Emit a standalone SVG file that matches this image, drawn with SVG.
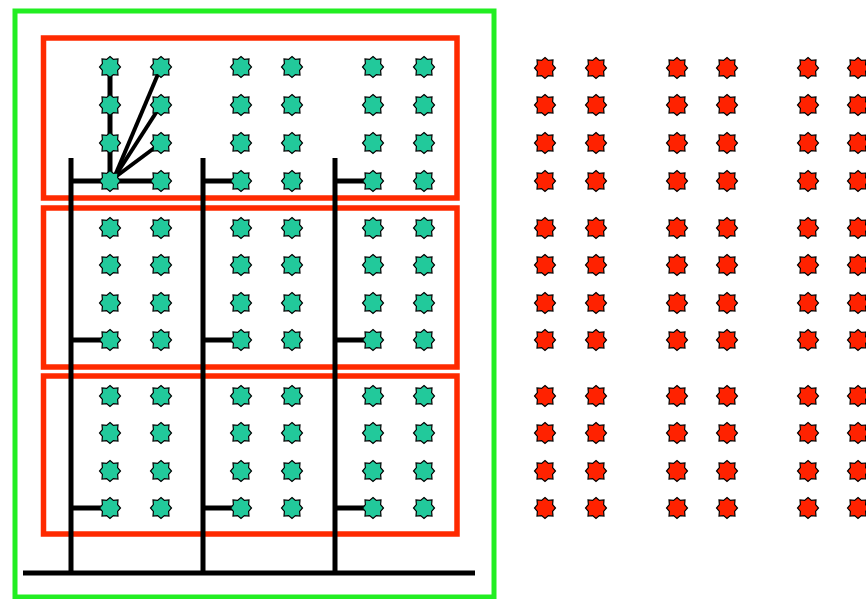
<svg xmlns="http://www.w3.org/2000/svg" xmlns:xlink="http://www.w3.org/1999/xlink" width="866" height="599" viewBox="0 0 866 599">
<style>
.frame{fill:none;stroke:#22ee22;stroke-width:5}
.box{fill:none;stroke:#ff2a00;stroke-width:5.5}
.wire{stroke:#000;stroke-width:5;fill:none}
.fan{stroke:#000;stroke-width:4;fill:none}
.g{fill:#22c99b}
.r{fill:#ff2200}
</style>
<defs>
<polygon id="star" stroke="#000" stroke-width="1.2" points="0,-10.5 3.4,-7.6 8,-8 7.6,-3.4 10.5,0 7.6,3.4 8,8 3.4,7.6 0,10.5 -3.4,7.6 -8,8 -7.6,3.4 -10.5,0 -7.6,-3.4 -8,-8 -3.4,-7.6"/>
</defs>
<rect width="866" height="599" fill="#fff"/>
<rect class="frame" x="15" y="11" width="479" height="586"/>
<g id="boxes">
<rect class="box" x="43.5" y="38" width="413.5" height="160"/>
<rect class="box" x="43.5" y="208" width="413.5" height="159"/>
<rect class="box" x="43.5" y="376" width="413.5" height="158"/>
</g>
<g id="connectors">
<line class="wire" x1="71" y1="158" x2="71" y2="573"/>
<line class="wire" x1="203" y1="158" x2="203" y2="573"/>
<line class="wire" x1="335" y1="158" x2="335" y2="573"/>
<line class="wire" x1="23" y1="573" x2="475" y2="573"/>
<line class="wire" x1="71" y1="181" x2="161" y2="181"/>
<line class="wire" x1="203" y1="181" x2="241" y2="181"/>
<line class="wire" x1="335" y1="181" x2="373" y2="181"/>
<line class="wire" x1="71" y1="340" x2="111" y2="340"/>
<line class="wire" x1="203" y1="340" x2="241" y2="340"/>
<line class="wire" x1="335" y1="340" x2="373" y2="340"/>
<line class="wire" x1="71" y1="508" x2="111" y2="508"/>
<line class="wire" x1="203" y1="508" x2="241" y2="508"/>
<line class="wire" x1="335" y1="508" x2="373" y2="508"/>
<line class="wire" x1="110" y1="67" x2="110" y2="181"/>
<line class="fan" x1="114" y1="178" x2="161" y2="67"/>
<line class="fan" x1="114" y1="178" x2="161" y2="105"/>
<line class="fan" x1="114" y1="178" x2="161" y2="143"/>
</g>
<g id="green-stars">
<g id="g1-1"><use href="#star" class="g" x="110" y="67"/></g>
<g id="g1-2"><use href="#star" class="g" x="161" y="67"/></g>
<g id="g1-3"><use href="#star" class="g" x="241" y="67"/></g>
<g id="g1-4"><use href="#star" class="g" x="292" y="67"/></g>
<g id="g1-5"><use href="#star" class="g" x="373" y="67"/></g>
<g id="g1-6"><use href="#star" class="g" x="424" y="67"/></g>
<g id="g2-1"><use href="#star" class="g" x="110" y="105"/></g>
<g id="g2-2"><use href="#star" class="g" x="161" y="105"/></g>
<g id="g2-3"><use href="#star" class="g" x="241" y="105"/></g>
<g id="g2-4"><use href="#star" class="g" x="292" y="105"/></g>
<g id="g2-5"><use href="#star" class="g" x="373" y="105"/></g>
<g id="g2-6"><use href="#star" class="g" x="424" y="105"/></g>
<g id="g3-1"><use href="#star" class="g" x="110" y="143"/></g>
<g id="g3-2"><use href="#star" class="g" x="161" y="143"/></g>
<g id="g3-3"><use href="#star" class="g" x="241" y="143"/></g>
<g id="g3-4"><use href="#star" class="g" x="292" y="143"/></g>
<g id="g3-5"><use href="#star" class="g" x="373" y="143"/></g>
<g id="g3-6"><use href="#star" class="g" x="424" y="143"/></g>
<g id="g4-1"><use href="#star" class="g" x="110" y="181"/></g>
<g id="g4-2"><use href="#star" class="g" x="161" y="181"/></g>
<g id="g4-3"><use href="#star" class="g" x="241" y="181"/></g>
<g id="g4-4"><use href="#star" class="g" x="292" y="181"/></g>
<g id="g4-5"><use href="#star" class="g" x="373" y="181"/></g>
<g id="g4-6"><use href="#star" class="g" x="424" y="181"/></g>
<g id="g5-1"><use href="#star" class="g" x="110" y="228"/></g>
<g id="g5-2"><use href="#star" class="g" x="161" y="228"/></g>
<g id="g5-3"><use href="#star" class="g" x="241" y="228"/></g>
<g id="g5-4"><use href="#star" class="g" x="292" y="228"/></g>
<g id="g5-5"><use href="#star" class="g" x="373" y="228"/></g>
<g id="g5-6"><use href="#star" class="g" x="424" y="228"/></g>
<g id="g6-1"><use href="#star" class="g" x="110" y="265"/></g>
<g id="g6-2"><use href="#star" class="g" x="161" y="265"/></g>
<g id="g6-3"><use href="#star" class="g" x="241" y="265"/></g>
<g id="g6-4"><use href="#star" class="g" x="292" y="265"/></g>
<g id="g6-5"><use href="#star" class="g" x="373" y="265"/></g>
<g id="g6-6"><use href="#star" class="g" x="424" y="265"/></g>
<g id="g7-1"><use href="#star" class="g" x="110" y="303"/></g>
<g id="g7-2"><use href="#star" class="g" x="161" y="303"/></g>
<g id="g7-3"><use href="#star" class="g" x="241" y="303"/></g>
<g id="g7-4"><use href="#star" class="g" x="292" y="303"/></g>
<g id="g7-5"><use href="#star" class="g" x="373" y="303"/></g>
<g id="g7-6"><use href="#star" class="g" x="424" y="303"/></g>
<g id="g8-1"><use href="#star" class="g" x="110" y="340"/></g>
<g id="g8-2"><use href="#star" class="g" x="161" y="340"/></g>
<g id="g8-3"><use href="#star" class="g" x="241" y="340"/></g>
<g id="g8-4"><use href="#star" class="g" x="292" y="340"/></g>
<g id="g8-5"><use href="#star" class="g" x="373" y="340"/></g>
<g id="g8-6"><use href="#star" class="g" x="424" y="340"/></g>
<g id="g9-1"><use href="#star" class="g" x="110" y="396"/></g>
<g id="g9-2"><use href="#star" class="g" x="161" y="396"/></g>
<g id="g9-3"><use href="#star" class="g" x="241" y="396"/></g>
<g id="g9-4"><use href="#star" class="g" x="292" y="396"/></g>
<g id="g9-5"><use href="#star" class="g" x="373" y="396"/></g>
<g id="g9-6"><use href="#star" class="g" x="424" y="396"/></g>
<g id="g10-1"><use href="#star" class="g" x="110" y="433"/></g>
<g id="g10-2"><use href="#star" class="g" x="161" y="433"/></g>
<g id="g10-3"><use href="#star" class="g" x="241" y="433"/></g>
<g id="g10-4"><use href="#star" class="g" x="292" y="433"/></g>
<g id="g10-5"><use href="#star" class="g" x="373" y="433"/></g>
<g id="g10-6"><use href="#star" class="g" x="424" y="433"/></g>
<g id="g11-1"><use href="#star" class="g" x="110" y="471"/></g>
<g id="g11-2"><use href="#star" class="g" x="161" y="471"/></g>
<g id="g11-3"><use href="#star" class="g" x="241" y="471"/></g>
<g id="g11-4"><use href="#star" class="g" x="292" y="471"/></g>
<g id="g11-5"><use href="#star" class="g" x="373" y="471"/></g>
<g id="g11-6"><use href="#star" class="g" x="424" y="471"/></g>
<g id="g12-1"><use href="#star" class="g" x="110" y="508"/></g>
<g id="g12-2"><use href="#star" class="g" x="161" y="508"/></g>
<g id="g12-3"><use href="#star" class="g" x="241" y="508"/></g>
<g id="g12-4"><use href="#star" class="g" x="292" y="508"/></g>
<g id="g12-5"><use href="#star" class="g" x="373" y="508"/></g>
<g id="g12-6"><use href="#star" class="g" x="424" y="508"/></g>
</g>
<g id="red-stars">
<g id="r1-1"><use href="#star" class="r" x="545" y="68"/></g>
<g id="r1-2"><use href="#star" class="r" x="596" y="68"/></g>
<g id="r1-3"><use href="#star" class="r" x="677" y="68"/></g>
<g id="r1-4"><use href="#star" class="r" x="727" y="68"/></g>
<g id="r1-5"><use href="#star" class="r" x="808" y="68"/></g>
<g id="r1-6"><use href="#star" class="r" x="858" y="68"/></g>
<g id="r2-1"><use href="#star" class="r" x="545" y="105"/></g>
<g id="r2-2"><use href="#star" class="r" x="596" y="105"/></g>
<g id="r2-3"><use href="#star" class="r" x="677" y="105"/></g>
<g id="r2-4"><use href="#star" class="r" x="727" y="105"/></g>
<g id="r2-5"><use href="#star" class="r" x="808" y="105"/></g>
<g id="r2-6"><use href="#star" class="r" x="858" y="105"/></g>
<g id="r3-1"><use href="#star" class="r" x="545" y="143"/></g>
<g id="r3-2"><use href="#star" class="r" x="596" y="143"/></g>
<g id="r3-3"><use href="#star" class="r" x="677" y="143"/></g>
<g id="r3-4"><use href="#star" class="r" x="727" y="143"/></g>
<g id="r3-5"><use href="#star" class="r" x="808" y="143"/></g>
<g id="r3-6"><use href="#star" class="r" x="858" y="143"/></g>
<g id="r4-1"><use href="#star" class="r" x="545" y="181"/></g>
<g id="r4-2"><use href="#star" class="r" x="596" y="181"/></g>
<g id="r4-3"><use href="#star" class="r" x="677" y="181"/></g>
<g id="r4-4"><use href="#star" class="r" x="727" y="181"/></g>
<g id="r4-5"><use href="#star" class="r" x="808" y="181"/></g>
<g id="r4-6"><use href="#star" class="r" x="858" y="181"/></g>
<g id="r5-1"><use href="#star" class="r" x="545" y="228"/></g>
<g id="r5-2"><use href="#star" class="r" x="596" y="228"/></g>
<g id="r5-3"><use href="#star" class="r" x="677" y="228"/></g>
<g id="r5-4"><use href="#star" class="r" x="727" y="228"/></g>
<g id="r5-5"><use href="#star" class="r" x="808" y="228"/></g>
<g id="r5-6"><use href="#star" class="r" x="858" y="228"/></g>
<g id="r6-1"><use href="#star" class="r" x="545" y="265"/></g>
<g id="r6-2"><use href="#star" class="r" x="596" y="265"/></g>
<g id="r6-3"><use href="#star" class="r" x="677" y="265"/></g>
<g id="r6-4"><use href="#star" class="r" x="727" y="265"/></g>
<g id="r6-5"><use href="#star" class="r" x="808" y="265"/></g>
<g id="r6-6"><use href="#star" class="r" x="858" y="265"/></g>
<g id="r7-1"><use href="#star" class="r" x="545" y="303"/></g>
<g id="r7-2"><use href="#star" class="r" x="596" y="303"/></g>
<g id="r7-3"><use href="#star" class="r" x="677" y="303"/></g>
<g id="r7-4"><use href="#star" class="r" x="727" y="303"/></g>
<g id="r7-5"><use href="#star" class="r" x="808" y="303"/></g>
<g id="r7-6"><use href="#star" class="r" x="858" y="303"/></g>
<g id="r8-1"><use href="#star" class="r" x="545" y="340"/></g>
<g id="r8-2"><use href="#star" class="r" x="596" y="340"/></g>
<g id="r8-3"><use href="#star" class="r" x="677" y="340"/></g>
<g id="r8-4"><use href="#star" class="r" x="727" y="340"/></g>
<g id="r8-5"><use href="#star" class="r" x="808" y="340"/></g>
<g id="r8-6"><use href="#star" class="r" x="858" y="340"/></g>
<g id="r9-1"><use href="#star" class="r" x="545" y="396"/></g>
<g id="r9-2"><use href="#star" class="r" x="596" y="396"/></g>
<g id="r9-3"><use href="#star" class="r" x="677" y="396"/></g>
<g id="r9-4"><use href="#star" class="r" x="727" y="396"/></g>
<g id="r9-5"><use href="#star" class="r" x="808" y="396"/></g>
<g id="r9-6"><use href="#star" class="r" x="858" y="396"/></g>
<g id="r10-1"><use href="#star" class="r" x="545" y="433"/></g>
<g id="r10-2"><use href="#star" class="r" x="596" y="433"/></g>
<g id="r10-3"><use href="#star" class="r" x="677" y="433"/></g>
<g id="r10-4"><use href="#star" class="r" x="727" y="433"/></g>
<g id="r10-5"><use href="#star" class="r" x="808" y="433"/></g>
<g id="r10-6"><use href="#star" class="r" x="858" y="433"/></g>
<g id="r11-1"><use href="#star" class="r" x="545" y="471"/></g>
<g id="r11-2"><use href="#star" class="r" x="596" y="471"/></g>
<g id="r11-3"><use href="#star" class="r" x="677" y="471"/></g>
<g id="r11-4"><use href="#star" class="r" x="727" y="471"/></g>
<g id="r11-5"><use href="#star" class="r" x="808" y="471"/></g>
<g id="r11-6"><use href="#star" class="r" x="858" y="471"/></g>
<g id="r12-1"><use href="#star" class="r" x="545" y="508"/></g>
<g id="r12-2"><use href="#star" class="r" x="596" y="508"/></g>
<g id="r12-3"><use href="#star" class="r" x="677" y="508"/></g>
<g id="r12-4"><use href="#star" class="r" x="727" y="508"/></g>
<g id="r12-5"><use href="#star" class="r" x="808" y="508"/></g>
<g id="r12-6"><use href="#star" class="r" x="858" y="508"/></g>
</g>
</svg>
